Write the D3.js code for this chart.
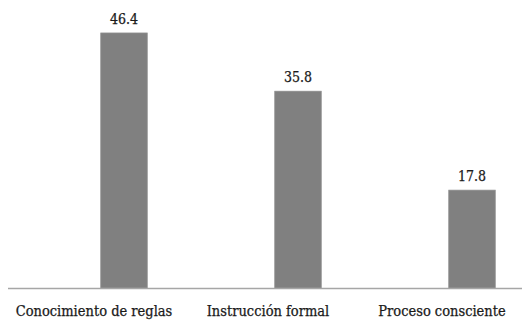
<!DOCTYPE html>
<html>
<head>
<meta charset="utf-8">
<script src="https://cdn.jsdelivr.net/npm/d3@7"></script>
<style>
  html, body { margin: 0; padding: 0; background: #fff; }
  svg { display: block; }
</style>
</head>
<body>
<script>
// Porcentaje de respuestas por categoría
const categories = ["Conocimiento de reglas", "Instrucción formal", "Proceso consciente"];
const values = [46.4, 35.8, 17.8];
const yDomain = [0, 50];

const width = 522, height = 320;
const baseY = 288;
const serif = "'DejaVu Serif Condensed', 'DejaVu Serif', serif";
const ink = "#1a1a1a";

const svg = d3.select("body").append("svg")
  .attr("width", width)
  .attr("height", height);

const x = d3.scaleBand()
  .domain(categories)
  .range([37, 559])
  .paddingInner(0.733)
  .paddingOuter(0.3665);

const y = d3.scaleLinear()
  .domain(yDomain)
  .range([baseY, 13.2]);

// Barras
svg.selectAll("rect.bar")
  .data(values)
  .join("rect")
  .attr("class", "bar")
  .attr("x", (d, i) => x(categories[i]))
  .attr("y", d => y(d))
  .attr("width", x.bandwidth())
  .attr("height", d => y(0) - y(d))
  .attr("fill", "#808080")
  .attr("stroke", "#8c8c8c")
  .attr("stroke-width", 0.8);

// Línea base
svg.append("line")
  .attr("x1", 8).attr("x2", width)
  .attr("y1", y(0) + 0.5).attr("y2", y(0) + 0.5)
  .attr("stroke", "#a6a6a6")
  .attr("stroke-width", 1.6);

// Valores sobre las barras
svg.selectAll("text.val")
  .data(values)
  .join("text")
  .attr("class", "val")
  .attr("x", (d, i) => x(categories[i]) + x.bandwidth() / 2)
  .attr("y", d => y(d) - 9)
  .attr("text-anchor", "middle")
  .attr("font-family", serif)
  .attr("font-size", 14)
  .attr("fill", ink)
  .attr("stroke", ink)
  .attr("stroke-width", 0.25)
  .text(d => d.toFixed(1));

// Etiquetas de categoría
svg.selectAll("text.cat")
  .data(categories)
  .join("text")
  .attr("class", "cat")
  .attr("x", d => x(d) + x.bandwidth() / 2 - 30)
  .attr("y", 316)
  .attr("text-anchor", "middle")
  .attr("font-family", serif)
  .attr("font-size", 14.5)
  .attr("fill", ink)
  .attr("stroke", ink)
  .attr("stroke-width", 0.25)
  .text(d => d);
</script>
</body>
</html>
